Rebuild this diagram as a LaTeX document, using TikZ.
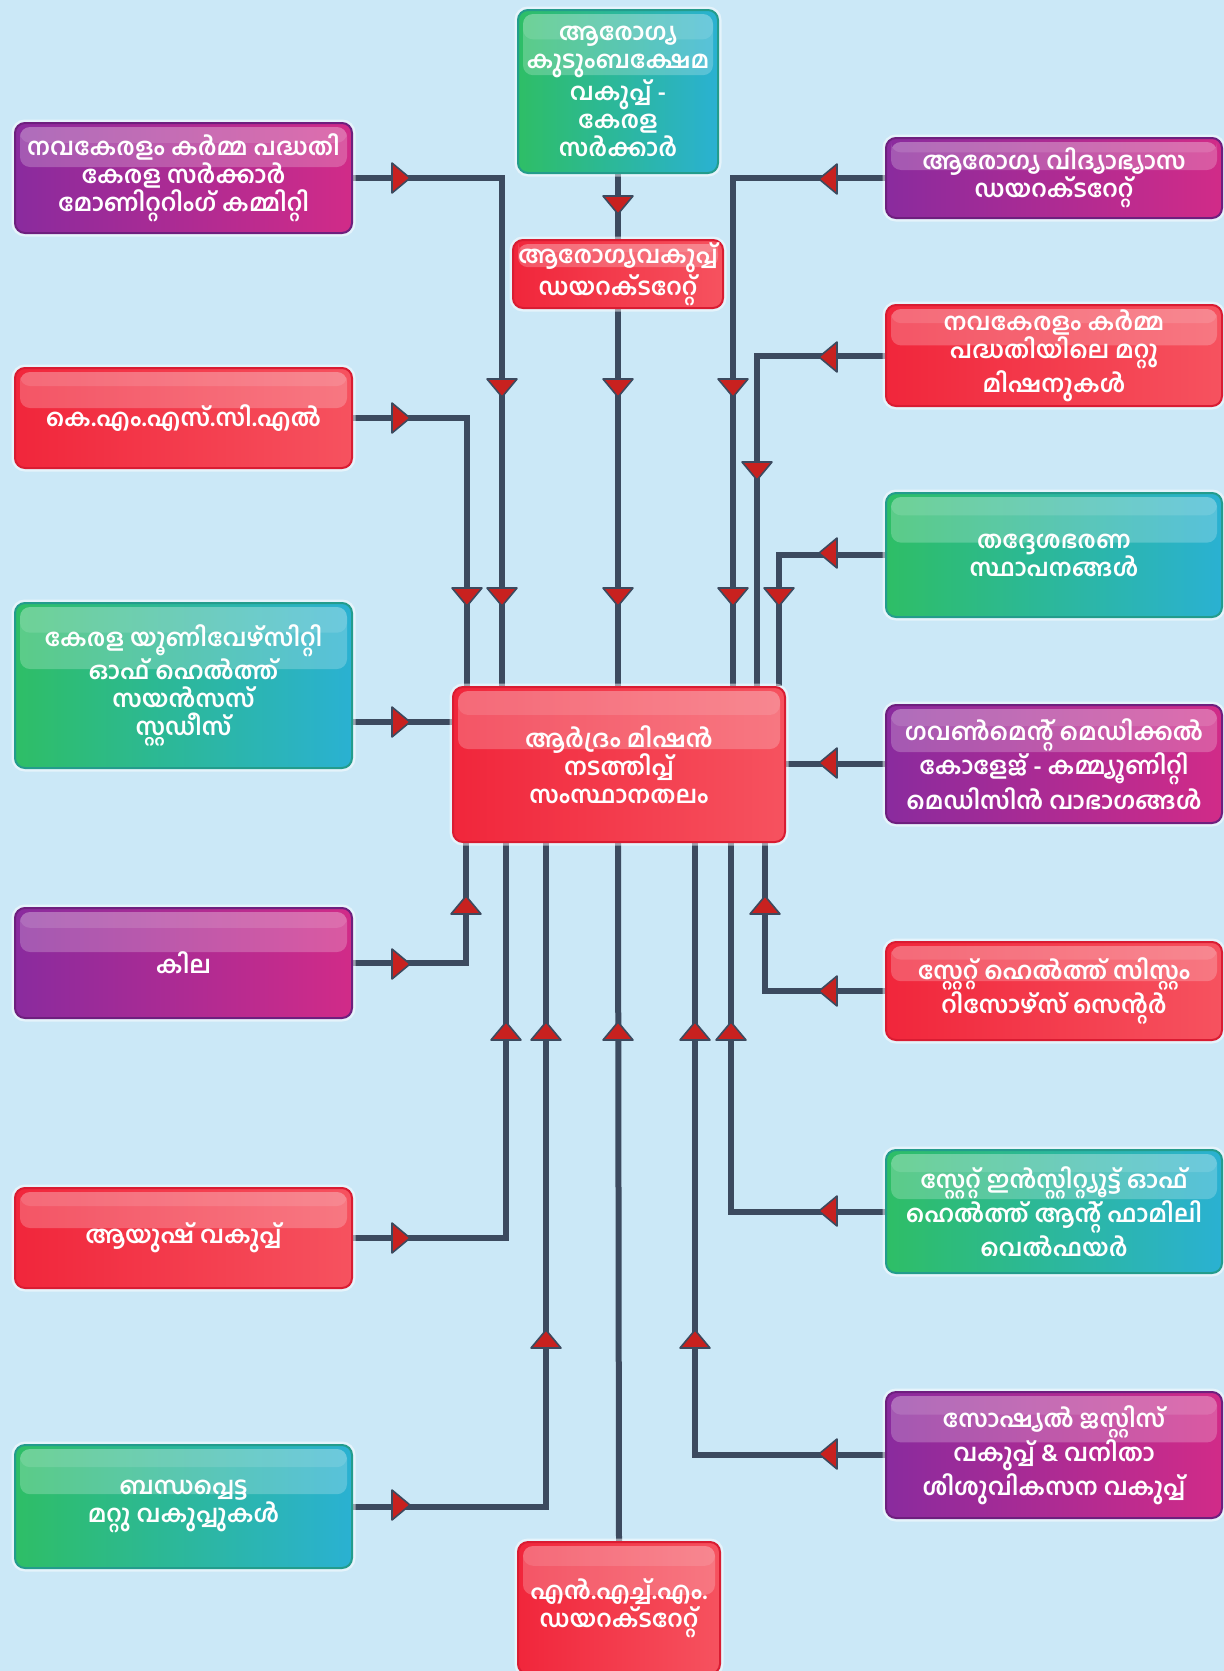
\documentclass[tikz,border=0pt]{standalone}
\usepackage{fontspec}
\newfontfamily\ml[Script=Malayalam]{Hind Kochi}
\usetikzlibrary{backgrounds,calc}
\definecolor{bgc}{HTML}{CBE8F7}
\definecolor{linec}{HTML}{3C4A5F}
\definecolor{arrred}{HTML}{C8211F}
\definecolor{pl}{HTML}{8A2B9E}\definecolor{pr}{HTML}{D12B88}\definecolor{pb}{HTML}{6E1F7E}
\definecolor{rl}{HTML}{F1263B}\definecolor{rr}{HTML}{F6525F}\definecolor{rb}{HTML}{D91C32}
\definecolor{gl}{HTML}{2EBE66}\definecolor{gr}{HTML}{2AB1D2}\definecolor{gb}{HTML}{239C8C}
\tikzset{
  box/.style={rounded corners=5pt, line width=1pt, align=center, text=white, inner sep=0pt,
    font=\ml\bfseries\fontsize{12}{14}\selectfont,
    preaction={draw=white, draw opacity=0.5, line width=3.5pt},
    path picture={\fill[white,fill opacity=0.22]
      ($(path picture bounding box.north west)+(2.5pt,-2pt)$) rectangle
      ($(path picture bounding box.north east)!0.4!(path picture bounding box.south east)+(-2.5pt,0)$);
      \fill[white,fill opacity=0.12]
      ($(path picture bounding box.north west)+(2.5pt,-2pt)$) rectangle
      ($(path picture bounding box.north east)!0.18!(path picture bounding box.south east)+(-2.5pt,0)$);}},
  purplebox/.style={box, left color=pl, right color=pr, draw=pb},
  redbox/.style={box, left color=rl, right color=rr, draw=rb},
  greenbox/.style={box, left color=gl, right color=gr, draw=gb},
  lbox/.style={minimum width=168.5pt},
  rbox/.style={minimum width=168pt},
  conn/.style={draw=linec, line width=3pt},
}
\newcommand\arrmark[3]{\begin{scope}[shift={(#1,#2)},rotate=#3]
  \filldraw[fill=arrred,draw=linec,line width=0.8pt,line join=round] (9,0)--(-9,15)--(-9,-15)--cycle;
  \end{scope}}
\begin{document}
\begin{tikzpicture}[x=0.5pt,y=-0.5pt]
\useasboundingbox (0,0) rectangle (1224,1671);
% left column
\node[purplebox,lbox,minimum height=55pt] (L1) at (183.5,178) {നവകേരളം കർമ്മ പദ്ധതി\\കേരള സർക്കാർ\\മോണിറ്ററിംഗ് കമ്മിറ്റി};
\node[redbox,lbox,minimum height=50pt] (L2) at (183.5,418) {കെ.എം.എസ്.സി.എൽ};
\node[greenbox,lbox,minimum height=82.5pt] (L3) at (183.5,685.5) {കേരള യൂണിവേഴ്സിറ്റി\\ഓഫ് ഹെൽത്ത്\\സയൻസസ്\\സ്റ്റഡീസ്};
\node[purplebox,lbox,minimum height=55pt] (L4) at (183.5,963) {കില};
\node[redbox,lbox,minimum height=50pt] (L5) at (183.5,1238) {ആയുഷ് വകുപ്പ്};
\node[greenbox,lbox,minimum height=61.5pt] (L6) at (183.5,1506.5) {ബന്ധപ്പെട്ട\\മറ്റു വകുപ്പുകൾ};
% right column
\node[purplebox,rbox,minimum height=40pt] (R1) at (1054,178) {ആരോഗ്യ വിദ്യാഭ്യാസ\\ഡയറക്ടറേറ്റ്};
\node[redbox,rbox,minimum height=50.5pt] (R2) at (1054,355.5) {നവകേരളം കർമ്മ\\പദ്ധതിയിലെ മറ്റു\\മിഷനുകൾ};
\node[greenbox,rbox,minimum height=62pt] (R3) at (1054,555) {തദ്ദേശഭരണ\\സ്ഥാപനങ്ങൾ};
\node[purplebox,rbox,minimum height=59pt] (R4) at (1054,764) {ഗവൺമെന്റ് മെഡിക്കൽ\\കോളേജ് - കമ്മ്യൂണിറ്റി\\മെഡിസിൻ വാഭാഗങ്ങൾ};
\node[redbox,rbox,minimum height=49pt] (R5) at (1054,991) {സ്റ്റേറ്റ് ഹെൽത്ത് സിസ്റ്റം\\റിസോഴ്സ് സെന്റർ};
\node[greenbox,rbox,minimum height=61.5pt] (R6) at (1054,1211.5) {സ്റ്റേറ്റ് ഇൻസ്റ്റിറ്റ്യൂട്ട് ഓഫ്\\ഹെൽത്ത് ആന്റ് ഫാമിലി\\വെൽഫയർ};
\node[purplebox,rbox,minimum height=63pt] (R7) at (1054,1455) {സോഷ്യൽ ജസ്റ്റിസ്\\വകുപ്പ് \& വനിതാ\\ശിശുവികസന വകുപ്പ്};
% centre column
\node[greenbox,minimum width=100pt,minimum height=81.5pt] (T) at (618,91.5) {ആരോഗ്യ\\കുടുംബക്ഷേമ\\വകുപ്പ് -\\കേരള\\സർക്കാർ};
\node[redbox,minimum width=105pt,minimum height=34pt] (D) at (618,274) {ആരോഗ്യവകുപ്പ്\\ഡയറക്ടറേറ്റ്};
\node[redbox,minimum width=166pt,minimum height=77.5pt] (C) at (619,764.5) {ആർദ്രം മിഷൻ\\നടത്തിപ്പ്\\സംസ്ഥാനതലം};
\node[redbox,minimum width=101pt,minimum height=66pt] (N) at (619,1608) {എൻ.എച്ച്.എം.\\ഡയറക്ടറേറ്റ്};
% lanes
\coordinate (a1) at (467,0);
\coordinate (a2) at (502,0);
\coordinate (a3) at (618,0);
\coordinate (a4) at (733,0);
\coordinate (a5) at (757,0);
\coordinate (a6) at (779,0);
\coordinate (b1) at (466,0);
\coordinate (b2) at (506,0);
\coordinate (b3) at (546,0);
\coordinate (b5) at (695,0);
\coordinate (b6) at (731,0);
\coordinate (b7) at (765,0);
\coordinate (ky) at (0,722);
\begin{pgfonlayer}{background}
\fill[bgc] (0,0) rectangle (1224,1671);
\draw[conn] (L1.east) -| (C.north -| a2);
\draw[conn] (L2.east) -| (C.north -| a1);
\draw[conn] (L3.east |- ky) -- (C.west |- ky);
\draw[conn] (L4.east) -| (C.south -| b1);
\draw[conn] (L5.east) -| (C.south -| b2);
\draw[conn] (L6.east) -| (C.south -| b3);
\draw[conn] (T.south) -- (D.north);
\draw[conn] (D.south) -- (C.north -| a3);
\draw[conn] (N.north) -- (C.south -| a3);
\draw[conn] (R1.west) -| (C.north -| a4);
\draw[conn] (R2.west) -| (C.north -| a5);
\draw[conn] (R3.west) -| (C.north -| a6);
\draw[conn] (R4.west) -- (C.east |- R4.west);
\draw[conn] (R5.west) -| (C.south -| b7);
\draw[conn] (R6.west) -| (C.south -| b6);
\draw[conn] (R7.west) -| (C.south -| b5);
% arrowheads
\foreach \y in {178,418,722,964,1238,1505} {\arrmark{401}{\y}{0}}
\foreach \y in {179,357,553,763,991,1211,1454} {\arrmark{828}{\y}{180}}
\foreach \p/\q in {502/388,502/597,467/597,618/205,618/388,618/597,733/388,733/597,757/471,779/597} {\arrmark{\p}{\q}{-90}}
\foreach \p/\q in {466/905,765/905,506/1031,546/1031,618/1031,695/1031,731/1031,546/1339,695/1339} {\arrmark{\p}{\q}{90}}
\end{pgfonlayer}
\end{tikzpicture}
\end{document}
